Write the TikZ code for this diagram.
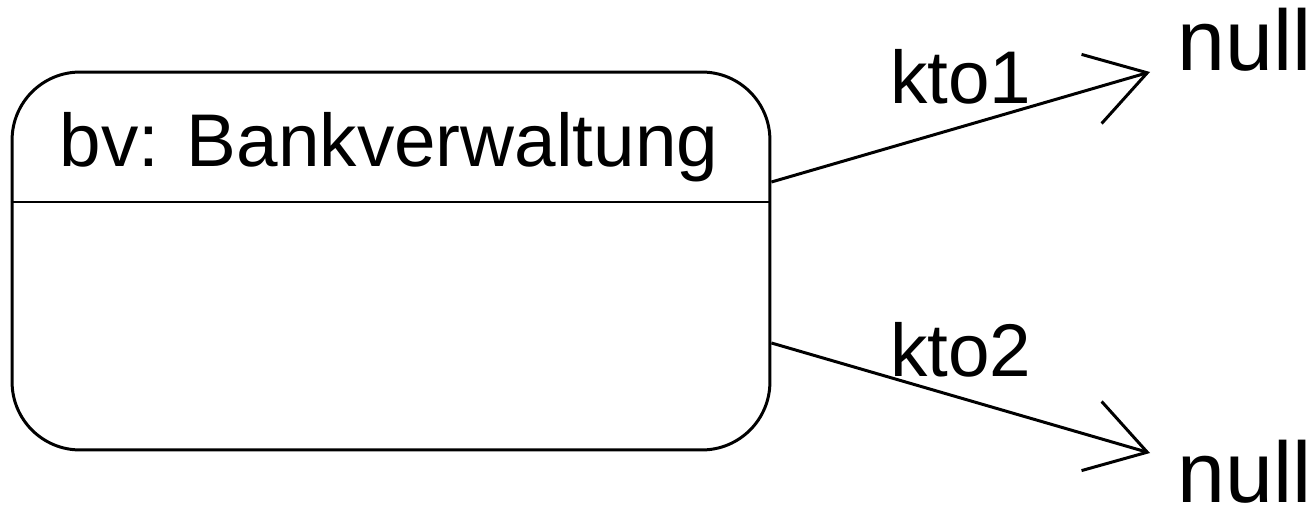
\documentclass[tikz,border=0pt]{standalone}
\usepackage{fontspec}
\setmainfont{Liberation Sans}
\usetikzlibrary{arrows.meta,positioning}

\begin{document}
\begin{tikzpicture}[x=0.02cm, y=-0.02cm,
	objbox/.style = {draw, line width=1.7pt, rounded corners=1.36cm,
		minimum width=15.16cm, minimum height=7.56cm, inner sep=0pt},
	lbl/.style = {inner sep=0pt, font=\fontsize{42.5}{50}\selectfont},
	nulltxt/.style = {inner sep=0pt, anchor=base east, font=\fontsize{49}{58}\selectfont},
	assoc/.style = {line width=1.7pt, -{Straight Barb[length=1.16cm, width=1.44cm]}}]

	\useasboundingbox (0,0) rectangle (1313,510);

	% object box with its name compartment
	\node[objbox] (bv) at (391,261) {};
	\node[lbl, anchor=base] (title) at (389,167) {bv: Bankverwaltung};
	\coordinate (div) at (0,202);
	\draw[line width=1.7pt] (bv.west |- div) -- (bv.east |- div);

	% the two links
	\node[nulltxt] (null1) at (1312,71) {null};
	\node[nulltxt] (null2) at (1312,502) {null};
	\coordinate (tip1) at (1150,72);
	\coordinate (tip2) at (1150,453);

	\draw[assoc] ([yshift=1.58cm]bv.east) -- node[lbl, pos=0.5, anchor=base, yshift=0.48cm] (kto1) {kto1} (tip1);
	\draw[assoc] ([yshift=-1.64cm]bv.east) -- node[lbl, pos=0.5, anchor=base, yshift=0.42cm] (kto2) {kto2} (tip2);
\end{tikzpicture}
\end{document}
